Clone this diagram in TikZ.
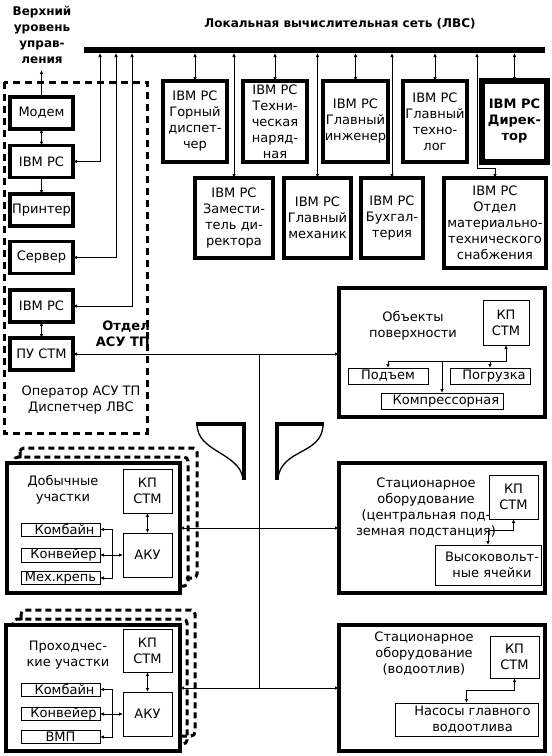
\documentclass[tikz,border=0pt]{standalone}
\usepackage{fontspec}
\setmainfont{DejaVu Sans}
\usetikzlibrary{arrows.meta}
\newcommand{\fn}{\fontsize{13}{16}\selectfont}
\newcommand{\fbt}{\fontsize{12}{16}\selectfont\bfseries}
\newcommand{\fbb}{\fontsize{13}{16}\selectfont\bfseries}
\begin{document}
\begin{tikzpicture}[x=1pt,y=-1pt,
  >={Latex[length=4pt,width=3.5pt]},
  bx/.style={draw, line width=3.3pt, inner sep=0pt, outer sep=0pt, align=center, font=\fn, fill=white},
  sb/.style={draw, line width=0.9pt, inner sep=0pt, outer sep=0pt, align=center, font=\fn, fill=white},
  lbl/.style={inner sep=0pt, align=center, font=\fn},
  conn/.style={line width=0.9pt},
  frame/.style={line width=3pt, dash pattern=on 7pt off 5pt},
  cardframe/.style={line width=3pt, dash pattern=on 6pt off 4pt, rounded corners=4pt},
  brk/.style={line width=4pt},
  brkc/.style={line width=1.3pt}]
\useasboundingbox (0,0) rectangle (552,756);
\fill[white] (0,0) rectangle (552,756);

% titles
\node[lbl, font=\fbt] (upper) at (42,35) {Верхний\\уровень\\управ-\\ления};
\node[lbl, font=\fbt] (lan) at (340,24) {Локальная вычислительная сеть (ЛВС)};

% bus
\coordinate (busL) at (84,50);
\coordinate (busR) at (545,50);
\draw[line width=6pt] (busL) -- (busR);
\coordinate (t1) at (100,53);
\coordinate (t2) at (116,53);
\coordinate (t3) at (132,53);
\coordinate (m0) at (477,53);
\coordinate (m1) at (477,168);
\coordinate (u0) at (41.5,70);

% left department frame
\draw[frame] (4,82) rectangle (147,433);
\node[lbl, font=\fbb, anchor=east, align=right] (dept) at (150,334) {Отдел\\АСУ ТП};
\node[lbl] (oper) at (81,400) {Оператор АСУ ТП\\Диспетчер ЛВС};

% left column
\node[bx, minimum width=63pt, minimum height=32pt] (modem) at (41.5,113) {Модем};
\node[bx, minimum width=63pt, minimum height=32pt] (ibm1) at (41.5,161.5) {IBM PC};
\node[bx, minimum width=63pt, minimum height=32pt] (printer) at (41.5,210) {Принтер};
\node[bx, minimum width=63pt, minimum height=32pt] (server) at (41.5,257.5) {Сервер};
\node[bx, minimum width=63pt, minimum height=32pt] (ibm2) at (41.5,306) {IBM PC};
\node[bx, minimum width=63pt, minimum height=32pt] (pu) at (41.5,354) {ПУ СТМ};

\draw[conn,->] (modem.north) -- (u0);
\draw[conn,<->] (modem) -- (ibm1);
\draw[conn,->] (ibm1) -- (printer);
\draw[conn,<->] (ibm2) -- (pu);
\draw[conn,<->] (ibm1.east) -| (t1);
\draw[conn,<->] (server.east) -| (t2);
\draw[conn,<->] (ibm2.east) -| (t3);

% top row
\node[bx, minimum width=64pt, minimum height=81pt] (a1) at (195,121.5) {IBM PC\\Горный\\диспет-\\чер};
\node[bx, minimum width=64pt, minimum height=81pt] (a2) at (275,121.5) {IBM PC\\Техни-\\ческая\\наряд-\\ная};
\node[bx, minimum width=65pt, minimum height=81pt] (a3) at (355.5,121.5) {IBM PC\\Главный\\инженер};
\node[bx, minimum width=64pt, minimum height=81pt] (a4) at (435,121.5) {IBM PC\\Главный\\техно-\\лог};
\node[bx, line width=6pt, font=\fbb, minimum width=65pt, minimum height=81pt] (a5) at (514.5,121.5) {IBM PC\\Дирек-\\тор};

% second row
\node[bx, minimum width=78pt, minimum height=80pt] (b1) at (234,218) {IBM PC\\Замести-\\тель ди-\\ректора};
\node[bx, minimum width=67pt, minimum height=80pt] (b2) at (317.5,218) {IBM PC\\Главный\\механик};
\node[bx, minimum width=62pt, minimum height=80pt] (b3) at (392,218) {IBM PC\\Бухгал-\\терия};
\node[bx, minimum width=102pt, minimum height=90pt] (b4) at (495,223) {IBM PC\\Отдел\\материально-\\технического\\снабжения};

\foreach \n in {a1,a2,a3,a4,a5,b1,b2,b3}{
  \draw[conn,<->] (\n.north |- t1) -- (\n.north);
}
\draw[conn,<->] (m0) -- (m1) -| (b4.north);

% surface objects
\node[bx, minimum width=206pt, minimum height=129pt] (obj) at (442,352.5) {};
\node[lbl] (objt) at (413,326) {Объекты\\поверхности};
\node[sb, minimum width=46pt, minimum height=45pt] (kp1) at (506,322.5) {КП\\СТМ};
\node[sb, minimum width=80pt, minimum height=16pt] (pod) at (388,376) {Подъем};
\node[sb, minimum width=80pt, minimum height=16pt] (pog) at (490,376) {\hspace*{8pt}Погрузка};
\node[sb, minimum width=122pt, minimum height=16pt] (komp) at (442,401) {\hspace*{8pt}Компрессорная};
\coordinate (h1) at (506,361);
\draw[conn,<->] (kp1.south) -- (h1) -| (pod.north);
\draw[conn,->] (h1 -| komp.north) -- (komp.north);
\draw[conn,->] (h1 -| pog.north) -- (pog.north);

% link from PU STM
\draw[conn,<->] (pu.east) -- (pu.east -| obj.west);
\coordinate (j1) at (259,354);
\coordinate (j2) at (259,688);
\draw[conn] (j1) -- (j2);

% break symbols
\draw[brk] (196,424) -- (244,424) -- (244,480);
\draw[brkc] (197,424) .. controls (197,452) and (238,452) .. (243,478);
\draw[brk] (324,424) -- (277,424) -- (277,480);
\draw[brkc] (323,424) .. controls (323,455) and (282,448) .. (278,478);

% mining sections
\draw[cardframe] (20,448) rectangle (197,578);
\draw[cardframe] (14,457) rectangle (188,586);
\node[bx, minimum width=173pt, minimum height=130pt] (dob) at (93.5,528) {};
\node[lbl] (dobt) at (63,490) {Добычные\\участки};
\node[sb, minimum width=49pt, minimum height=44pt] (kp2) at (147.5,491) {КП\\СТМ};
\node[sb, minimum width=49pt, minimum height=44pt] (aku1) at (147.5,555) {АКУ};
\node[sb, minimum width=79pt, minimum height=13pt] (kom1) at (60.5,529.5) {\hspace*{8pt}Комбайн};
\node[sb, minimum width=79pt, minimum height=14pt] (kon1) at (60.5,555) {\hspace*{6pt}Конвейер};
\node[sb, minimum width=79pt, minimum height=13pt] (meh1) at (60.5,578) {Мех.крепь};
\coordinate (v1) at (112,555);
\draw[conn,<->] (kp2) -- (aku1);
\draw[conn,->] (v1) -- (aku1.west);
\draw[conn,->] (v1) -- (kon1.east);
\draw[conn,->] (v1) |- (kom1.east);
\draw[conn,->] (v1) |- (meh1.east);

% stationary equipment (central substation)
\node[bx, minimum width=206pt, minimum height=130pt] (cpp) at (442,528) {};
\node[lbl] (cppt) at (426,508) {Стационарное\\оборудование\\(центральная под-\\земная подстанция)};
\node[sb, minimum width=49pt, minimum height=44pt] (kp4) at (513.5,497) {КП\\СТМ};
\node[sb, minimum width=106pt, minimum height=40pt] (hv) at (488,565) {\hspace*{8pt}Высоковольт-\\\hspace*{8pt}ные ячейки};
\coordinate (h4) at (488,530);
\draw[conn,<->] (kp4.south) |- (h4) -- (hv.north);
\draw[conn,<->] (dob.east) -- (cpp.west);

% tunnelling sections
\draw[cardframe] (21,610) rectangle (195,736);
\draw[cardframe] (13,619) rectangle (187,744);
\node[bx, minimum width=174pt, minimum height=126pt] (pro) at (93,688) {};
\node[lbl] (prot) at (68,655) {Проходчес-\\кие участки};
\node[sb, minimum width=49pt, minimum height=43pt] (kp3) at (147.5,650.5) {КП\\СТМ};
\node[sb, minimum width=49pt, minimum height=44pt] (aku2) at (147.5,714) {АКУ};
\node[sb, minimum width=79pt, minimum height=13pt] (kom2) at (60.5,689.5) {\hspace*{8pt}Комбайн};
\node[sb, minimum width=79pt, minimum height=13pt] (kon2) at (60.5,714) {\hspace*{6pt}Конвейер};
\node[sb, minimum width=79pt, minimum height=13pt] (vmp) at (60.5,737) {ВМП};
\coordinate (v2) at (112,714);
\draw[conn,<->] (kp3) -- (aku2);
\draw[conn,->] (v2) -- (aku2.west);
\draw[conn,->] (v2) -- (kon2.east);
\draw[conn,->] (v2) |- (kom2.east);
\draw[conn,->] (v2) |- (vmp.east);

% stationary equipment (drainage)
\node[bx, minimum width=206pt, minimum height=126pt] (vod) at (442,688) {};
\node[lbl] (vodt) at (424,654) {Стационарное\\оборудование\\(водоотлив)};
\node[sb, minimum width=49pt, minimum height=42pt] (kp5) at (514.5,657) {КП\\СТМ};
\node[sb, minimum width=143pt, minimum height=33pt] (nas) at (466.5,719.5) {\hspace*{12pt}Насосы главного\\\hspace*{12pt}водоотлива};
\coordinate (h5) at (466.5,690);
\draw[conn,<->] (kp5.south) |- (h5) -- (nas.north);
\draw[conn,<->] (pro.east) -- (vod.west);
\end{tikzpicture}
\end{document}
